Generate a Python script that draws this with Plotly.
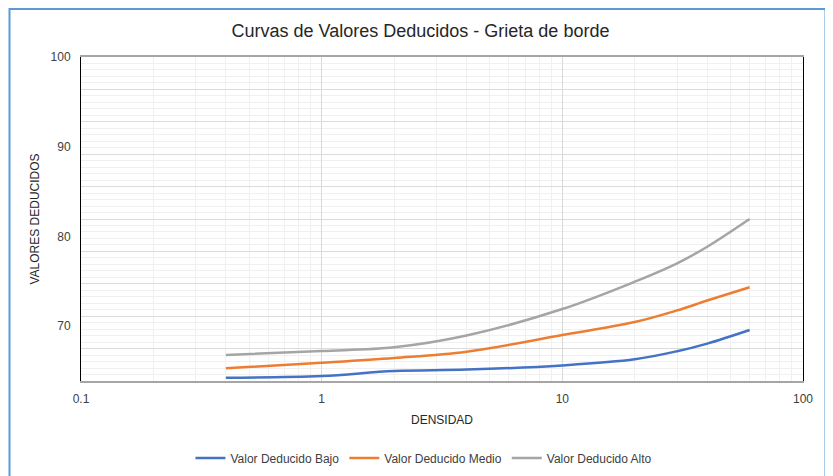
import plotly.graph_objects as go

density = [0.4, 1, 2, 4, 10, 20, 30, 40, 60]
bajo = [64.25, 64.44, 65.0, 65.15, 65.62, 66.3, 67.2, 68.05, 69.57]
medio = [65.3, 65.92, 66.45, 67.15, 69.0, 70.45, 71.75, 72.85, 74.33]
alto = [66.78, 67.22, 67.64, 68.95, 71.9, 74.95, 77.0, 78.85, 81.94]

series_names = ["Valor Deducido Bajo", "Valor Deducido Medio", "Valor Deducido Alto"]
series_colors = ["#4472C4", "#ED7D31", "#A5A5A5"]
y_ticks = [70, 80, 90, 100]

fig = go.Figure()
for name, vals, col in zip(series_names, [bajo, medio, alto], series_colors):
    fig.add_trace(go.Scatter(x=density, y=vals, mode="lines", name=name,
                             line=dict(color=col, width=2.5, shape="spline", smoothing=1.0)))

# invisible trace to hold the gridline overlay axis
fig.add_trace(go.Scatter(x=[1], y=[0], yaxis="y2", mode="markers",
                         marker=dict(opacity=0), showlegend=False, hoverinfo="skip"))

base_font = "Liberation Sans, Arial, sans-serif"

# page body has an 8px margin, so the figure is sized/positioned to compensate
W, H = 825, 468
fig.update_layout(
    width=W, height=H,
    margin=dict(l=73, r=30, t=49, b=95, autoexpand=False),
    paper_bgcolor="white", plot_bgcolor="white",
    font=dict(family=base_font, size=12, color="#404040"),
    title=dict(text="Curvas de Valores Deducidos - Grieta de borde",
               x=0.5, xanchor="center", y=1 - 23 / H, yanchor="middle",
               font=dict(family=base_font, size=18, color="#262626"),
               automargin=False),
    xaxis=dict(type="log", range=[-1, 2], dtick=1, automargin=False,
               showgrid=True, gridcolor="#d9d9d9", gridwidth=1,
               minor=dict(dtick="D1", showgrid=True, gridcolor="#f0f0f0", gridwidth=1),
               showline=True, linecolor="#a6a6a6", linewidth=2, mirror=True,
               zeroline=False, ticks="outside", ticklen=6, tickcolor="rgba(0,0,0,0)",
               tickfont=dict(size=12, color="#404040"),
               title=dict(text="DENSIDAD", standoff=10,
                          font=dict(size=12, color="#262626"))),
    yaxis=dict(range=[63.88, 100], tickvals=y_ticks, automargin=False,
               showgrid=False, zeroline=False,
               showline=True, linecolor="#000000", linewidth=1, mirror=True,
               ticks="outside", ticklen=7, tickcolor="rgba(0,0,0,0)",
               tickfont=dict(size=12, color="#404040"),
               title=dict(text="VALORES DEDUCIDOS", standoff=8,
                          font=dict(size=12, color="#262626"))),
    yaxis2=dict(overlaying="y", range=[0, 10], dtick=1, side="right", automargin=False,
                showgrid=True, gridcolor="#dcdcdc", gridwidth=1,
                minor=dict(dtick=0.2, showgrid=True, gridcolor="#f0f0f0", gridwidth=1),
                showticklabels=False, ticks="", showline=False, zeroline=False),
    legend=dict(orientation="h", x=0.475, xanchor="center", y=-0.238, yanchor="middle",
                font=dict(size=12, color="#404040"), itemwidth=30,
                bgcolor="rgba(0,0,0,0)"),
    showlegend=True,
)

# decorative chart frame
fig.add_shape(type="rect", xref="paper", yref="paper",
              x0=(1.5 - 73) / 722, x1=(817.5 - 73) / 722,
              y0=(373 - 480) / 324, y1=(373 - 1) / 324,
              line=dict(color="#5B9BD5", width=2), fillcolor="rgba(0,0,0,0)", layer="below")

fig.write_html("out.html")
